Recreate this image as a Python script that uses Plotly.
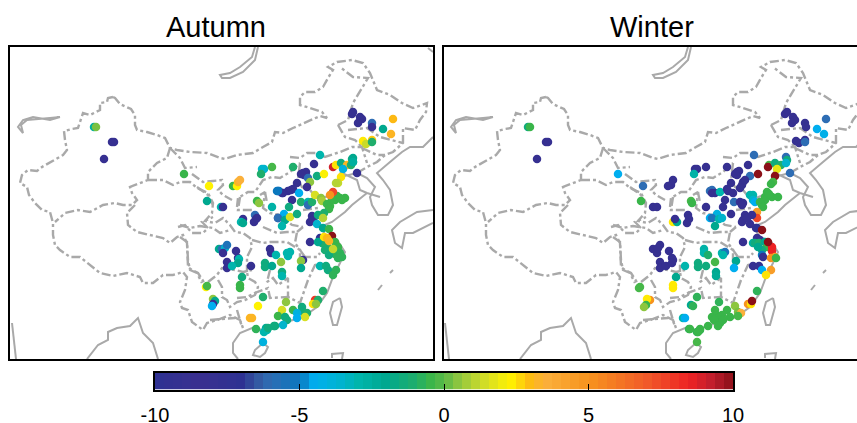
import numpy as np
import plotly.graph_objects as go

# Map geometry, in map units
border = [(113,97),(115,98),(120,104),(131,109),(135,115),(135,125),(137,130),(147,132),(157,135),(165,138),(170,148),(177,150),(190,152),(207,153),(220,158),(225,159),(237,155),(253,153),(263,147),(272,142),(275,132),(283,133),(293,128),(307,122),(320,116),(327,118),(322,112),(310,108),(300,105),(300,97),(305,92),(315,92),(323,87),(328,78),(333,70),(328,67),(337,62),(352,60),(363,63),(370,73),(377,90),(390,95),(402,103),(413,108),(427,103),(426,112),(420,120),(415,130),(403,128),(403,143),(393,152),(385,155),(377,162),(367,167),(357,173),
          (None,None),
          (113,97),(108,98),(107,102),(100,103),(100,110),(90,115),(83,113),(80,122),(78,128),(72,129),(64,131),(65,140),(67,150),(63,155),(53,161),(42,167),(37,171),(28,170),(22,175),(20,183),(27,187),(29,195),(35,203),(42,210),(50,212),(53,223),(53,235),(55,245),(60,250),(70,257),(80,257),(90,265),(100,273),(113,276),(127,273),(140,277),(143,283),(153,283),(163,275),(173,275),(183,272),(187,277),(185,290),(180,302),(182,308),(188,310),(192,322),(203,330),(207,323),(217,320),(230,315),(240,320),(243,328)]
provinces = [
 [(170,148),(167,158),(157,163),(148,172),(148,180),(140,183),(130,187),(132,193),(137,200),(132,205),(123,205),(115,203),(103,205),(90,212),(78,210),(65,213),(55,222)],
 [(135,205),(127,213),(128,225),(137,232),(150,235),(163,238),(170,243),(177,237),(183,235),(187,243),(188,267),(192,270),(198,273),(207,287)],
 [(178,227),(185,225),(192,233),(203,233),(208,228),(202,222),(213,217)],
 [(148,180),(163,180),(173,185),(180,182),(190,182),(197,188),(208,193),(213,203),(212,213),(205,221),(215,223),(223,218),(230,225),(235,232),(243,233),(250,238),(252,247),(247,257),(247,272)],
 [(170,148),(180,158),(185,168),(197,167)],
 [(192,174),(203,182),(213,181),(222,180),(223,185),(218,190),(223,195),(232,200)],
 [(197,187),(208,195),(213,205)],
 [(237,207),(238,198),(248,192),(255,192),(263,180),(272,177),(280,178),(290,172),(300,163)],
 [(260,195),(265,192),(263,208),(270,213),(280,215),(292,225),(303,227)],
 [(180,225),(190,228),(200,226),(213,228),(220,233),(230,230)],
 [(180,237),(187,242),(188,260),(190,270),(197,273),(202,283)],
 [(208,282),(217,275),(222,268),(235,270),(243,272),(252,270)],
 [(218,280),(222,287),(222,297),(227,300),(230,307),(237,302),(245,300),(255,295),(258,287),(255,282),(248,278),(247,272)],
 [(270,270),(267,282),(273,278),(278,285),(288,278),(288,297)],
 [(237,298),(247,297),(257,292),(268,288),(270,298),(282,297),(288,297),(300,303),(308,280),(315,265),(323,263)],
 [(237,310),(242,327)],[(210,320),(235,318)],
 [(252,240),(263,243),(270,242),(287,242),(300,250),(300,265),(305,257),(317,257),(320,253)],
 [(263,227),(277,233),(287,232),(297,232),(295,243),(305,257)],
 [(303,227),(297,232)],
 [(240,197),(238,210),(253,210)],
 [(265,192),(267,203)],
 [(290,157),(300,158),(307,153),(317,153),(325,157),(340,152),(352,147),(362,147),(367,163)],
 [(300,163),(298,180),(302,187),(310,190)],
 [(338,125),(345,137),(355,140),(362,147)],
 [(338,125),(348,120),(353,103),(363,87),(368,78),(353,77),(340,67)],
 [(348,130),(367,128),(380,137),(393,140),(403,143)],
 [(362,148),(377,155),(385,155)],
 [(310,190),(318,200),(328,196),(336,192)],
 [(303,210),(318,208),(316,226)],
]
coast = [[(357,173),(345,176),(340,172),(357,180),(360,190),(367,193),(380,197)],
         [(367,193),(352,205),(345,212),(332,222),(320,227),(328,238),(337,240),(345,252),(340,263),(333,277),(327,293),(317,307),(303,317),(283,323),(263,330),(252,328),(240,333),(233,343),(233,353),(238,359)],
         [(433,137),(423,147),(410,147),(402,152),(390,162),(377,173),(383,180),(390,190),(393,205),(388,215),(378,215),(372,205),(370,197),(375,187),(367,178),(357,173)]]
islands = [[(263,343),(255,350),(253,355),(260,357),(265,353),(268,347),(263,343)],
           [(340,298),(333,302),(330,313),(333,325),(337,325),(342,307),(340,298)],
           [(433,210),(417,212),(400,222),(392,230),(395,243),(402,248),(405,233),(413,233),(433,223)],
           [(258,47),(255,60),(243,72),(230,78),(222,78),(220,75),(230,73),(240,67),(252,57),(255,47)],
           [(60,117),(50,120),(33,117),(23,120),(18,127),(23,133),(21,125),(27,120),(50,118),(60,117)],
           [(87,359),(98,345),(108,340),(108,332),(117,328),(130,326),(138,318),(143,333),(153,343),(158,359)],
           [(12,323),(13,333),(16,359)],[(332,358),(332,354),(343,353),(342,359)],
           [(428,48),(433,52)],[(393,270),(390,273)],[(382,285),(378,290)]]

# Station anomalies: map x, map y, value
autumn = [(94,127,-2.5),(96,127,0.3),(112,142,-9),(114,142,-9),(104,159,-9),(184,174,-0.5),(209,186,2.3),(207,201,-2),(221,207,-3),(223,207,-9),
(233,186,-0.5),(237,186,2.3),(238,182,3.2),(240,180,3.5),(262,169,-3.5),(264,169,-3.5),(272,167,-0.3),(261,174,-1),(277,191,-5),(279,191,-5),(257,201,-0.5),(259,203,0.5),(272,207,-2.8),
(255,215,-6),(256,219,-9),(254,222,-9),(257,218,-9),(243,219,-9),(241,222,-3),(243,223,-2),(278,218,-7),(219,249,-2),(222,249,-6),(225,248,-3.5),(227,245,-5.5),(223,253,-9),(236,251,-9),
(270,249,-9),(271,253,-9),(276,255,-3),(238,258,-9),(239,259,-3),(238,263,-2),(227,262,-9),(227,268,-9),(232,266,-3),(251,266,-8),(265,263,-1.5),(265,267,-1.5),(272,266,-2),(242,277,-1.5),(240,285,-0.5),(240,288,-0.5),
(206,287,2.3),(207,286,-0.3),(213,299,0.5),(215,301,-2),(213,304,-9),(212,306,-4.5),(263,297,-1),(258,306,2.3),(250,318,3.2),(252,318,3.2),(256,329,-0.7),(266,328,-2.2),(267,330,-3),(275,326,-1.5),(263,342,-4),
(293,167,-1),(314,164,-8),(320,155,-3),(303,173,-9),(304,175,-9),(306,172,-9),(301,174,-9),(317,176,-1.5),(324,174,2.2),(308,178,-6),(310,182,0.5),(307,187,-8.5),(297,183,-9),
(333,167,9),(336,165,2.5),(341,163,-1.5),(347,165,3.2),(343,169,-4),(351,165,-1),(352,159,-1.5),(353,162,-2),(357,173,-8),(341,177,2.5),(338,183,1.2),(336,183,1),
(293,189,-9),(288,191,-9),(283,193,-9),(291,190,-9),(282,193,-9),(278,191,-5),(299,193,-4.5),(292,200,-8),(301,202,-1),(289,207,-1.5),(308,202,-3),(308,205,-6),(312,202,-1),(315,195,1.5),(321,198,0.5),(322,201,0.8),
(340,198,-0.5),(345,198,-0.5),(330,206,-0.5),(335,200,-0.5),(327,204,-0.5),(337,196,-0.5),(342,200,-0.5),(332,199,-0.5),(329,209,-0.5),(333,192,7.5),(330,195,5),
(284,214,-4.5),(278,218,-6),(285,220,-2),(290,217,1.5),(282,226,-3),(297,214,-1.5),(312,216,-9),(310,222,-9),(313,220,-9),(317,224,-3.5),(318,215,-1.5),(324,213,-1),(323,218,1),(323,228,-2),(329,229,-0.5),
(310,242,-9),(332,236,10),(320,238,-7),(322,243,-1.2),(325,245,-1),(328,248,-1),(335,242,-0.5),(338,247,-0.5),(330,252,-0.7),(335,254,-0.7),(325,250,-1.2),(340,253,-0.7),(329,255,-1.5),(342,257,-0.7),(338,258,-0.7),(318,242,-2),(333,249,1.2),(324,237,2.5),(327,238,3),(329,241,3.2),
(287,253,-3),(290,252,-3),(288,256,-3),(281,262,0.5),(303,260,-9),(301,261,0.5),(301,268,-2),(282,272,-1.5),(282,276,-3),(320,266,-3),(326,266,-1.5),(328,270,-1.5),(336,270,-0.7),(333,275,-0.7),(323,291,-1),
(315,300,8),(318,300,-1),(313,304,2.5),(316,304,0.5),(286,302,0.5),(302,307,-1.5),(293,310,-0.5),(303,312,-1.5),(307,313,-1),(305,317,1.5),(297,313,-4),(297,318,-4.5),(282,310,1.5),(278,316,-0.5),(285,317,-1.5),(287,320,-1.5),(283,325,-3.5),(274,326,-1.5),(264,332,-3),(268,328,-1.5),
(353,112,-9),(352,114,-9),(360,117,-9),(362,119,-9),(358,123,-9),(372,123,-6),(372,127,-9),(393,119,3),(383,129,-2),(391,134,3.2),(363,141,2.4),(366,144,1.3),(372,140,2.8),(372,142,-1),(353,158,-2),(353,162,-2.5)]

winter = [(95,127,-1.5),(97,127,-0.5),(113,142,-9),(115,142,-9),(104,159,-9),(185,174,-4.5),(210,186,-6),(208,201,-0.5),(220,207,-9),(224,207,-9),(240,180,-9),(238,185,-9),(235,186,-9),
(262,169,-9),(264,169,-9),(273,167,-9),(261,174,-2.8),(258,201,-0.3),(259,203,-0.5),(273,207,-9),(277,191,-6),(240,222,2.4),(244,222,-2),(242,219,-9),(255,215,-9),(256,219,-9),(254,223,-9),(277,218,-4.5),
(220,249,-9),(224,253,-9),(227,245,-9),(225,248,-9),(236,251,-9),(227,262,-9),(227,268,-9),(233,266,-9),(239,258,-9),(240,260,-9),(239,263,-9),(252,266,-3),(265,263,-1.5),(265,267,-1.5),(273,266,-1.5),(271,249,-2.8),(271,253,-3),(275,255,-1),(243,277,-2),(240,285,2.4),(240,288,2.4),(207,287,-0.3),(206,288,-0.3),
(217,300,5),(214,299,2.4),(213,305,-0.5),(211,307,0.5),(264,297,-0.7),(258,305,-2),(260,306,-0.7),(250,318,-3),(252,318,-4.5),(256,329,-0.7),(267,330,-0.7),(264,332,-0.7),
(294,167,-9),(315,165,-9),(321,155,-6),(304,172,-9),(304,175,-9),(306,171,-9),(302,174,-9),(317,176,-6),(325,174,10),(310,182,-9),(309,185,-9),(312,180,-9),(307,188,-9),(298,183,-9),
(336,165,-0.3),(335,167,10),(342,163,-1.5),(348,165,-1),(344,169,1.8),(353,157,-6),(354,160,-1.5),(353,163,-3.5),(357,173,-6),(342,176,10),(340,182,-0.3),(338,184,-0.5),
(279,190,-6),(279,193,-9),(282,193,-9),(287,192,-3),(294,189,-9),(295,191,-9),(300,193,-9),(292,200,-9),(290,207,-9),(301,202,-6),(307,202,-9),(310,203,-9),(309,205,-9),
(317,195,-3),(320,195,-3),(320,200,-3.5),(322,202,-4.5),(334,192,-0.5),(332,197,-0.5),(339,197,-0.5),(345,197,-0.5),(329,205,-0.5),(332,200,-0.5),(327,202,-0.5),(336,194,-0.5),(330,207,-0.5),(324,212,4.5),(324,218,7.5),
(284,214,-4),(279,218,-5.5),(286,219,-3),(289,218,-3.5),(282,226,-2),(298,214,-9),(312,215,-9),(310,220,-9),(309,222,-9),(317,224,-9),(319,215,-9),(314,218,-9),(323,228,-9),(324,228,-7),(329,230,10),(310,242,-9),
(324,238,-9),(327,240,-9),(320,243,-2.5),(322,243,-1.5),(326,243,-1),(332,242,-2),(334,247,-0.5),(329,250,-1.5),(325,247,-2),(339,247,8.5),(339,251,8.5),(335,242,10),(329,255,-5),(330,257,-9),(342,257,4.5),(338,258,5),(343,258,-0.5),
(320,266,-9),(326,266,-9),(329,270,-4.5),(338,270,4.5),(333,275,2.5),(324,291,-0.7),(315,304,5),(318,304,2.5),(319,301,10),(302,306,0.5),(294,310,-0.5),(305,312,0.3),(308,313,3.5),(297,317,-0.5),(305,316,-0.3),
(283,315,-0.5),(279,317,-0.5),(285,318,-0.5),(287,323,-0.5),(282,310,-0.5),(289,315,-0.5),(281,320,-0.5),(285,326,-0.5),(290,320,-0.5),(275,326,-0.5),(267,329,-0.5),(265,332,-0.5),(257,329,-0.5),(264,342,-0.3),
(286,302,-0.7),(282,262,-0.3),(289,253,-3),(292,252,-5.5),(290,255,-3),(303,261,-2),(301,268,-4.5),(283,272,-2),(283,276,-2.2),
(354,112,-9),(352,114,-9),(360,117,-9),(362,120,-9),(359,123,-9),(372,123,-9),(373,127,-9),(393,119,-6),(384,129,-4.5),(391,134,-4.3),(363,141,-9),(366,143,-9),(372,140,-8),(372,142,-6)]

cs_values = [-10,-8.5,-7,-6.5,-6,-5,-4.5,-3.5,-3,-2,-1,-0.5,0,0.5,1,1.5,2.3,3,3.5,5,7,8.5,9.3,10]
cs_colors = ['#2e3192','#3a2f90','#2e3192','#34559f','#2e6db4','#0b77bd','#00aeef','#00b4cc','#00b5ad','#00a88f','#1fae6c','#39b54a','#5ab947','#8dc63f','#b5d334','#d7df23','#fff200','#fdb913','#fbb03b','#f7931e','#f15a29','#ed2224','#be1e2d','#8b1018']
colorscale = [[(v+10)/20, c] for v, c in zip(cs_values, cs_colors)]
bar_bands = 64
bar_tick_values = [-10,-5,0,5,10]
bar_tick_labels = ['-10','-5','0','5','10']
titles = ['Autumn','Winter']

W, H = 857, 423
GRAY = '#a9a9a9'
FONT = 'Liberation Sans, Arial, sans-serif'

def flat(segments):
    xs, ys = [], []
    for s in segments:
        for x, y in s:
            xs.append(x); ys.append(y)
        xs.append(None); ys.append(None)
    return xs, ys

fig = go.Figure()
dx, dy = flat([border] + provinces)
sx, sy = flat(coast + islands)
for ax, pts in ((('x','y'), autumn), (('x2','y2'), winter)):
    fig.add_trace(go.Scatter(x=sx, y=sy, xaxis=ax[0], yaxis=ax[1], mode='lines', hoverinfo='skip',
                             line=dict(color=GRAY, width=2), showlegend=False))
    fig.add_trace(go.Scatter(x=dx, y=dy, xaxis=ax[0], yaxis=ax[1], mode='lines', hoverinfo='skip', connectgaps=False,
                             line=dict(color=GRAY, width=2.4, dash='9px,3px,3px,3px'), showlegend=False))
    fig.add_trace(go.Scatter(x=[p[0] for p in pts], y=[p[1] for p in pts], xaxis=ax[0], yaxis=ax[1], mode='markers',
                             marker=dict(size=8.5, color=[p[2] for p in pts], coloraxis='coloraxis', line=dict(width=0)),
                             showlegend=False))

edges = np.linspace(-10, 10, bar_bands + 1)
centres = (edges[:-1] + edges[1:]) / 2
fig.add_trace(go.Heatmap(x=centres, y=[0], z=[centres.tolist()], coloraxis='coloraxis', xaxis='x3', yaxis='y3', hoverinfo='skip'))

map_axis = dict(showgrid=False, zeroline=False, showticklabels=False, ticks='', showline=True, linecolor='black', linewidth=2)
fig.update_layout(
    width=W, height=H, margin=dict(l=0, r=0, t=0, b=0, autoexpand=False), paper_bgcolor='white', plot_bgcolor='white', showlegend=False,
    font=dict(family=FONT, color='black'),
    coloraxis=dict(cmin=-10, cmax=10, colorscale=colorscale, showscale=False),
    xaxis=dict(domain=[10/W, 433/W], range=[10,433], mirror=True, automargin=False, **map_axis),
    yaxis=dict(domain=[1-359/H, 1-47/H], range=[359,47], mirror=True, automargin=False, **map_axis),
    xaxis2=dict(domain=[444/W, 1], range=[11,424], mirror=True, anchor='y2', automargin=False, **map_axis),
    yaxis2=dict(domain=[1-359/H, 1-47/H], range=[359,47], anchor='x2', automargin=False, **map_axis),
    xaxis3=dict(domain=[155/W, 733/W], range=[-10,10], anchor='y3', tickmode='array', tickvals=bar_tick_values, ticktext=bar_tick_labels, automargin=False,
                ticks='inside', ticklen=6, tickcolor='black', tickwidth=1, showgrid=False, zeroline=False, showline=True, linecolor='black', linewidth=2, mirror=True,
                tickfont=dict(size=20, family=FONT, color='black'), ticklabelstandoff=6),
    yaxis3=dict(domain=[1-389.5/H, 1-372.5/H], range=[-0.5,0.5], anchor='x3', showticklabels=False, ticks='', showgrid=False, zeroline=False, showline=True, linecolor='black', linewidth=2, mirror=True, automargin=False),
    annotations=[dict(text=titles[0], x=215.5/W, y=1-27/H, xref='paper', yref='paper', xanchor='center', yanchor='middle', showarrow=False, font=dict(size=29, family=FONT, color='black')),
                 dict(text=titles[1], x=651.5/W, y=1-27/H, xref='paper', yref='paper', xanchor='center', yanchor='middle', showarrow=False, font=dict(size=29, family=FONT, color='black'))],
)
fig.write_html('out.html', config=dict(displayModeBar=False), post_script="document.body.style.margin='0';document.documentElement.style.overflow='hidden';")
